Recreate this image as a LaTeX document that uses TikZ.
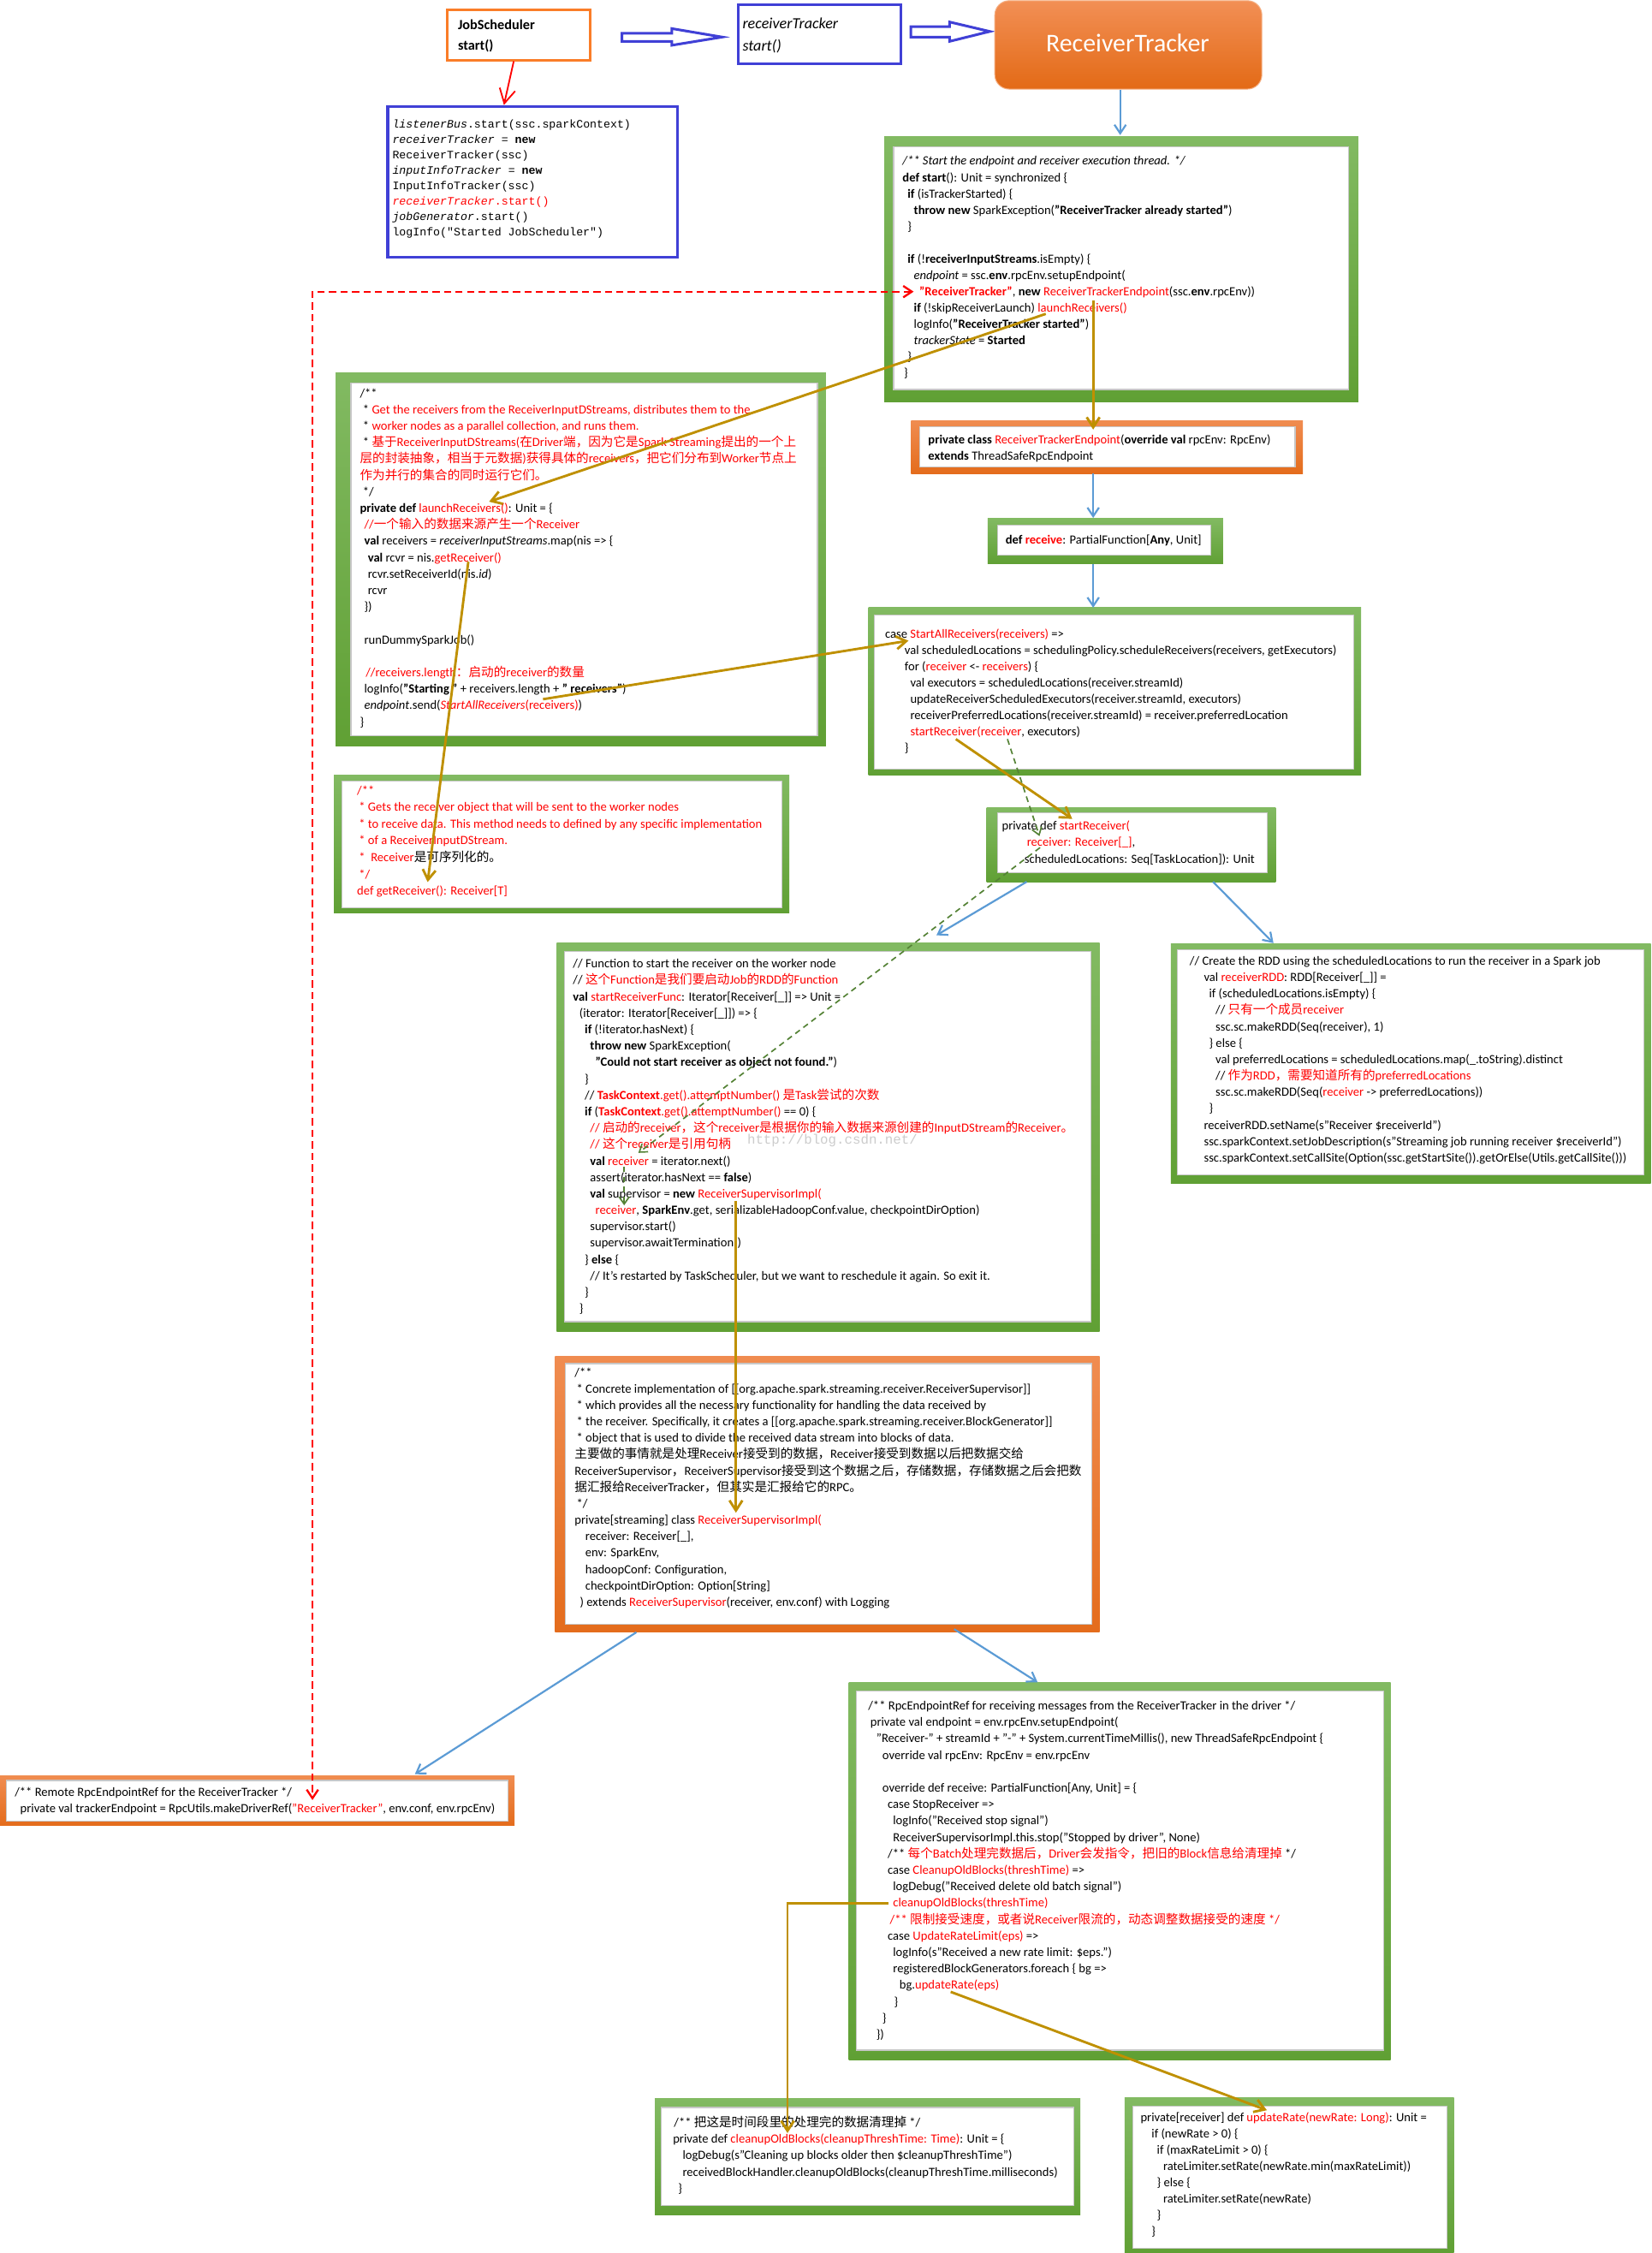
\documentclass[tikz,border=0pt]{standalone}
\usepackage{fontspec}
\setmainfont{Carlito}
\newfontfamily\zhf{Noto Sans CJK SC}
\newfontfamily\monof{Liberation Mono}
\usetikzlibrary{fit,arrows.meta}
\definecolor{gT}{RGB}{130,186,98}
\definecolor{gB}{RGB}{96,160,52}
\definecolor{oT}{RGB}{240,140,80}
\definecolor{oB}{RGB}{228,108,28}
\definecolor{cred}{RGB}{255,0,0}
\definecolor{cblue}{RGB}{91,155,213}
\definecolor{cgold}{RGB}{191,144,0}
\definecolor{cgd}{RGB}{84,130,53}
\definecolor{bbord}{RGB}{64,64,214}
\definecolor{jsor}{RGB}{250,125,40}
\newcommand\zh[1]{{\zhf #1}}
\newcommand\R[1]{\textcolor{cred}{#1}}
\newcommand\cb[2]{\vtop{\baselineskip=#1pt\lineskiplimit=-1000pt\lineskip=0pt\relax #2}}
\newcommand\cl[1]{\hbox{#1}}
\newcommand\ind[1]{\hskip#1pt\relax}
\tikzset{
 gfr/.style={inner sep=0pt, outer sep=0pt, draw=none, top color=gT, bottom color=gB},
 ofr/.style={inner sep=0pt, outer sep=0pt, draw=none, top color=oT, bottom color=oB},
 inb/.style={inner sep=0pt, outer sep=0pt, fill=white, draw=black!22, line width=0.7pt},
 plainbox/.style={inner sep=0pt, outer sep=0pt, line width=2pt, fill=white},
 txt/.style={anchor=base west, inner sep=0pt, font=\fontsize{8.7}{10.4}\selectfont},
 mono/.style={anchor=base west, inner sep=0pt, font=\monof\fontsize{7.9}{10}\selectfont},
 blar/.style={draw=cblue, line width=1.3pt, -{Straight Barb[length=6pt,width=8pt]}},
 gdar/.style={draw=cgold, line width=1.7pt, -{Straight Barb[length=7pt,width=9pt]}},
 redar/.style={draw=cred, line width=1.1pt, -{Straight Barb[length=10pt,width=11pt]}},
 reddash/.style={draw=cred, line width=1.4pt, dash pattern=on 5pt off 3pt, {Straight Barb[length=6pt,width=8pt]}-{Straight Barb[length=6pt,width=8pt]}},
 grdash/.style={draw=cgd, line width=1pt, dash pattern=on 4pt off 3pt, -{Straight Barb[length=5pt,width=7pt]}},
 hollow/.style={draw=bbord, line width=1.8pt, fill=white, line join=miter},
}
\begin{document}
\begin{tikzpicture}[x=1pt,y=-1pt]
\useasboundingbox[fill=white] (0,0) rectangle (1150,1568.3);

% ---------- header ----------
\node[plainbox, draw=jsor, fit={(311.5,7) (411,42)}] (jsB) {};
\node[anchor=base west, inner sep=0pt, font=\fontsize{9.7}{11}\selectfont\bfseries] (jsT1) at (318.6,20.5) {JobScheduler};
\node[anchor=base west, inner sep=0pt, font=\fontsize{9.7}{11}\selectfont\bfseries] (jsT2) at (318.6,35) {start()};

\node[plainbox, draw=bbord, fit={(513.8,3.4) (627,44.3)}] (rtB) {};
\node[anchor=base west, inner sep=0pt, font=\fontsize{10.8}{12}\selectfont\itshape] (rtT1) at (516.7,19.9) {receiverTracker};
\node[anchor=base west, inner sep=0pt, font=\fontsize{10.8}{12}\selectfont\itshape] (rtT2) at (516.7,35.4) {start()};

\draw[hollow] (433,23.2) -- (467.7,23.2) -- (467.7,19.9) -- (502.7,25.8) -- (467.7,31.5) -- (467.7,28.8) -- (433,28.8) -- cycle;
\draw[hollow] (634,18.5) -- (661,18.5) -- (661,15.3) -- (689,21.9) -- (661,28.8) -- (661,25.8) -- (634,25.8) -- cycle;

\node[inner sep=0pt, outer sep=0pt, rounded corners=10pt, top color={rgb,255:red,242;green,143;blue,85}, bottom color={rgb,255:red,227;green,106;blue,22}, draw={rgb,255:red,245;green,175;blue,130}, line width=0.6pt, fit={(692.5,0.5) (878.4,62)}] (RT) {};
\node[inner sep=0pt, text=white, font=\fontsize{17.8}{20}\selectfont] (RTt) at (785,30.2) {ReceiverTracker};

\node[plainbox, draw=bbord, fit={(270,74.1) (471.6,179)}] (lisB) {};
\node[mono] (lisT) at (273,89) {\cb{10.73}{%
\cl{\textit{listenerBus}.start(ssc.sparkContext)}%
\cl{\textit{receiverTracker} = \textbf{new}}%
\cl{ReceiverTracker(ssc)}%
\cl{\textit{inputInfoTracker} = \textbf{new}}%
\cl{InputInfoTracker(ssc)}%
\cl{\R{\textit{receiverTracker}.start()}}%
\cl{\textit{jobGenerator}.start()}%
\cl{logInfo("Started JobScheduler")}}};

% ---------- frames ----------
\node[gfr, fit={(615.6,95) (945.5,279.7)}] (startF) {};
\node[inb, fit={(622.1,102.3) (939,271.1)}] (startI) {};
\node[gfr, fit={(233.7,259.2) (574.9,519.4)}] (launchF) {};
\node[inb, fit={(244.3,266.6) (569,511.9)}] (launchI) {};
\node[gfr, fit={(232.4,539.3) (549.4,635.6)}] (getF) {};
\node[inb, fit={(238.1,543.9) (544.5,631.7)}] (getI) {};
\node[ofr, fit={(634.2,292.7) (907,329.7)}] (rteF) {};
\node[inb, fit={(640.2,297.2) (901.5,325.2)}] (rteI) {};
\node[gfr, fit={(687.5,360.5) (851.4,392.5)}] (recvF) {};
\node[inb, fit={(694.6,365.8) (842.6,386.3)}] (recvI) {};
\node[gfr, fit={(604.5,423) (947.5,539.3)}] (sarF) {};
\node[inb, fit={(608.5,428) (942.3,535.3)}] (sarI) {};
\node[gfr, fit={(686.8,562.1) (888,613.8)}] (srF) {};
\node[inb, fit={(694.6,566) (882,607.5)}] (srI) {};
\node[gfr, fit={(815,657) (1149.2,824)}] (rddF) {};
\node[inb, fit={(819.8,661.1) (1144.1,818)}] (rddI) {};
\node[gfr, fit={(387.6,656.5) (765.5,926.6)}] (srfF) {};
\node[inb, fit={(393.2,662.4) (759.3,920)}] (srfI) {};
\node[ofr, fit={(386.3,944) (765.5,1136.2)}] (supF) {};
\node[inb, fit={(393.7,949.2) (759.8,1130.6)}] (supI) {};
\node[ofr, fit={(0,1236) (358.2,1270.6)}] (remF) {};
\node[inb, fit={(4.3,1239.4) (353.8,1267.9)}] (remI) {};
\node[gfr, fit={(590.9,1171) (968,1433.8)}] (rpcF) {};
\node[inb, fit={(596.3,1176.9) (963.1,1427.1)}] (rpcI) {};
\node[gfr, fit={(455.9,1461) (752.1,1541.8)}] (clF) {};
\node[inb, fit={(460.5,1467) (747.4,1535.1)}] (clI) {};
\node[gfr, fit={(782.9,1460.4) (1012.2,1568.3)}] (urF) {};
\node[inb, fit={(788.4,1466.3) (1007.3,1565)}] (urI) {};

% ---------- texts ----------
\node[txt] (startT) at (628.1,115) {\cb{11.35}{%
\cl{\textit{/** Start the endpoint and receiver execution thread. */}}%
\cl{\textbf{def start}(): Unit = synchronized \{}%
\cl{\ind{3.5}\textbf{if} (isTrackerStarted) \{}%
\cl{\ind{7.9}\textbf{throw new} SparkException(\textbf{"ReceiverTracker already started"})}%
\cl{\ind{3.5}\}}%
\cl{}%
\cl{\ind{3.5}\textbf{if} (!\textbf{receiverInputStreams}.isEmpty) \{}%
\cl{\ind{7.9}\textit{endpoint} = ssc.\textbf{env}.rpcEnv.setupEndpoint(}%
\cl{\ind{11.7}\R{\textbf{"ReceiverTracker"}}, \textbf{new} \R{ReceiverTrackerEndpoint}(ssc.\textbf{env}.rpcEnv))}%
\cl{\ind{7.9}\textbf{if} (!skipReceiverLaunch) \R{launchReceivers()}}%
\cl{\ind{7.9}logInfo(\textbf{"ReceiverTracker started"})}%
\cl{\ind{7.9}\textit{trackerState} = \textbf{Started}}%
\cl{\ind{3.5}\}}%
\cl{\ind{1}\}}}};

\node[txt] (launchT) at (250.4,276.5) {\cb{11.44}{%
\cl{/**}%
\cl{\ind{2}* \R{Get the receivers from the ReceiverInputDStreams, distributes them to the}}%
\cl{\ind{2}* \R{worker nodes as a parallel collection, and runs them.}}%
\cl{\ind{2}* \R{\zh{基于}ReceiverInputDStreams(\zh{在}Driver\zh{端，因为它是}Spark Streaming\zh{提出的一个上}}}%
\cl{\R{\zh{层的封装抽象，相当于元数据})\zh{获得具体的}receivers\zh{，把它们分布到}Worker\zh{节点上}}}%
\cl{\R{\zh{作为并行的集合的同时运行它们。}}}%
\cl{\ind{2}*/}%
\cl{\textbf{private def} \R{launchReceivers()}: Unit = \{}%
\cl{\ind{3}\R{//\zh{一个输入的数据来源产生一个}Receiver}}%
\cl{\ind{3}\textbf{val} receivers = \textit{receiverInputStreams}.map(nis => \{}%
\cl{\ind{5.5}\textbf{val} rcvr = nis.\R{getReceiver()}}%
\cl{\ind{5.5}rcvr.setReceiverId(nis.\textit{id})}%
\cl{\ind{5.5}rcvr}%
\cl{\ind{3}\})}%
\cl{}%
\cl{\ind{3}runDummySparkJob()}%
\cl{}%
\cl{\ind{4}\R{//receivers.length\zh{：启动的}receiver\zh{的数量}}}%
\cl{\ind{3}logInfo(\textbf{"Starting "} + receivers.length + \textbf{" receivers"})}%
\cl{\ind{3}\textit{endpoint}.send(\R{\textit{StartAllReceivers}(receivers)})}%
\cl{\}}}};

\node[txt] (getT) at (248.4,553) {\cb{11.67}{%
\cl{\R{/**}}%
\cl{\ind{1.3}\R{* Gets the receiver object that will be sent to the worker nodes}}%
\cl{\ind{1.3}\R{* to receive data. This method needs to defined by any specific implementation}}%
\cl{\ind{1.3}\R{* of a ReceiverInputDStream.}}%
\cl{\ind{1.3}\R{*~ Receiver}\zh{是可序列化的。}}%
\cl{\ind{1.3}\R{*/}}%
\cl{\R{def getReceiver(): Receiver[T]}}}};

\node[txt] (rteT) at (646,309.1) {\cb{11}{%
\cl{\textbf{private class} \R{ReceiverTrackerEndpoint}(\textbf{override val} rpcEnv: RpcEnv)}%
\cl{\textbf{extends} ThreadSafeRpcEndpoint}}};

\node[txt] (recvT) at (699.8,378.6) {\textbf{def} \R{\textbf{receive}}: PartialFunction[\textbf{Any}, Unit]};

\node[txt] (sarT) at (616,444.2) {\cb{11.3}{%
\cl{case \R{StartAllReceivers(receivers)} =>}%
\cl{\ind{13.6}val scheduledLocations = schedulingPolicy.scheduleReceivers(receivers, getExecutors)}%
\cl{\ind{13.6}for (\R{receiver} <- \R{receivers}) \{}%
\cl{\ind{17.5}val executors = scheduledLocations(receiver.streamId)}%
\cl{\ind{17.5}updateReceiverScheduledExecutors(receiver.streamId, executors)}%
\cl{\ind{17.5}receiverPreferredLocations(receiver.streamId) = receiver.preferredLocation}%
\cl{\ind{17.5}\R{startReceiver(receiver}, executors)}%
\cl{\ind{13.6}\}}}};

\node[txt] (srT) at (697.3,577.8) {\cb{11.45}{%
\cl{private def \R{startReceiver(}}%
\cl{\ind{17.4}\R{receiver: Receiver[\_]},}%
\cl{\ind{15.7}scheduledLocations: Seq[TaskLocation]): Unit}}};

\node[txt] (rddT) at (828,671.8) {\cb{11.42}{%
\cl{// Create the RDD using the scheduledLocations to run the receiver in a Spark job}%
\cl{\ind{9.9}val \R{receiverRDD}: RDD[Receiver[\_]] =}%
\cl{\ind{13.5}if (scheduledLocations.isEmpty) \{}%
\cl{\ind{18}// \R{\zh{只有一个成员}receiver}}%
\cl{\ind{18}ssc.sc.makeRDD(Seq(receiver), 1)}%
\cl{\ind{13.5}\} else \{}%
\cl{\ind{18}val preferredLocations = scheduledLocations.map(\_.toString).distinct}%
\cl{\ind{18}// \R{\zh{作为}RDD\zh{，需要知道所有的}preferredLocations}}%
\cl{\ind{18}ssc.sc.makeRDD(Seq(\R{receiver} -> preferredLocations))}%
\cl{\ind{13.5}\}}%
\cl{\ind{9.9}receiverRDD.setName(s"Receiver \$receiverId")}%
\cl{\ind{9.9}ssc.sparkContext.setJobDescription(s"Streaming job running receiver \$receiverId")}%
\cl{\ind{9.9}ssc.sparkContext.setCallSite(Option(ssc.getStartSite()).getOrElse(Utils.getCallSite()))}}};

\node[txt] (srfT) at (398.7,673.8) {\cb{11.43}{%
\cl{// Function to start the receiver on the worker node}%
\cl{// \R{\zh{这个}Function\zh{是我们要启动}Job\zh{的}RDD\zh{的}Function}}%
\cl{\textbf{val} \R{startReceiverFunc}: Iterator[Receiver[\_]] => Unit =}%
\cl{\ind{4.4}(iterator: Iterator[Receiver[\_]]) => \{}%
\cl{\ind{8.2}\textbf{if} (!iterator.hasNext) \{}%
\cl{\ind{11.9}\textbf{throw new} SparkException(}%
\cl{\ind{15.6}\textbf{"Could not start receiver as object not found."})}%
\cl{\ind{8.2}\}}%
\cl{\ind{8.2}// \R{\textbf{TaskContext}.get().attemptNumber() \zh{是}Task\zh{尝试的次数}}}%
\cl{\ind{8.2}\textbf{if} (\R{\textbf{TaskContext}.get().attemptNumber()} == 0) \{}%
\cl{\ind{11.9}\R{// \zh{启动的}receiver\zh{，这个}receiver\zh{是根据你的输入数据来源创建的}InputDStream\zh{的}Receiver\zh{。}}}%
\cl{\ind{11.9}\R{// \zh{这个}receiver\zh{是引用句柄}}}%
\cl{\ind{11.9}\textbf{val} \R{receiver} = iterator.next()}%
\cl{\ind{11.9}assert(iterator.hasNext == \textbf{false})}%
\cl{\ind{11.9}\textbf{val} supervisor = \textbf{new} \R{ReceiverSupervisorImpl(}}%
\cl{\ind{15.6}\R{receiver}, \textbf{SparkEnv}.get, serializableHadoopConf.value, checkpointDirOption)}%
\cl{\ind{11.9}supervisor.start()}%
\cl{\ind{11.9}supervisor.awaitTermination()}%
\cl{\ind{8.2}\} \textbf{else} \{}%
\cl{\ind{11.9}// It's restarted by TaskScheduler, but we want to reschedule it again. So exit it.}%
\cl{\ind{8.2}\}}%
\cl{\ind{4.4}\}}}};

\node[anchor=base west, inner sep=0pt, text=black!20, font=\monof\fontsize{9.4}{11}\selectfont] (wm) at (520,796.5) {http://blog.csdn.net/};

\node[txt] (supT) at (399.9,958.2) {\cb{11.42}{%
\cl{/**}%
\cl{\ind{1.3}* Concrete implementation of [[org.apache.spark.streaming.receiver.ReceiverSupervisor]]}%
\cl{\ind{1.3}* which provides all the necessary functionality for handling the data received by}%
\cl{\ind{1.3}* the receiver. Specifically, it creates a [[org.apache.spark.streaming.receiver.BlockGenerator]]}%
\cl{\ind{1.3}* object that is used to divide the received data stream into blocks of data.}%
\cl{\zh{主要做的事情就是处理}Receiver\zh{接受到的数据，}Receiver\zh{接受到数据以后把数据交给}}%
\cl{ReceiverSupervisor\zh{，}ReceiverSupervisor\zh{接受到这个数据之后，存储数据，存储数据之后会把数}}%
\cl{\zh{据汇报给}ReceiverTracker\zh{，但其实是汇报给它的}RPC\zh{。}}%
\cl{\ind{1.3}*/}%
\cl{private[streaming] class \R{ReceiverSupervisorImpl(}}%
\cl{\ind{7.4}receiver: Receiver[\_],}%
\cl{\ind{7.4}env: SparkEnv,}%
\cl{\ind{7.4}hadoopConf: Configuration,}%
\cl{\ind{7.4}checkpointDirOption: Option[String]}%
\cl{\ind{3.7}) extends \R{ReceiverSupervisor}(receiver, env.conf) with Logging}}};

\node[txt] (remT) at (10.1,1250.6) {\cb{11.2}{%
\cl{/** Remote RpcEndpointRef for the ReceiverTracker */}%
\cl{\ind{3.8}private val trackerEndpoint = RpcUtils.makeDriverRef(\R{"ReceiverTracker"}, env.conf, env.rpcEnv)}}};

\node[txt] (rpcT) at (604.2,1190.2) {\cb{11.44}{%
\cl{/** RpcEndpointRef for receiving messages from the ReceiverTracker in the driver */}%
\cl{\ind{1.5}private val endpoint = env.rpcEnv.setupEndpoint(}%
\cl{\ind{5.7}"Receiver-" + streamId + "-" + System.currentTimeMillis(), new ThreadSafeRpcEndpoint \{}%
\cl{\ind{9.9}override val rpcEnv: RpcEnv = env.rpcEnv}%
\cl{}%
\cl{\ind{9.9}override def receive: PartialFunction[Any, Unit] = \{}%
\cl{\ind{13.6}case StopReceiver =>}%
\cl{\ind{17.3}logInfo("Received stop signal")}%
\cl{\ind{17.3}ReceiverSupervisorImpl.this.stop("Stopped by driver", None)}%
\cl{\ind{13.6}/** \R{\zh{每个}Batch\zh{处理完数据后，}Driver\zh{会发指令，把旧的}Block\zh{信息给清理掉}} */}%
\cl{\ind{13.6}case \R{CleanupOldBlocks(threshTime)} =>}%
\cl{\ind{17.3}logDebug("Received delete old batch signal")}%
\cl{\ind{17.3}\R{cleanupOldBlocks(threshTime)}}%
\cl{\ind{15.1}\R{/** \zh{限制接受速度，或者说}Receiver\zh{限流的，动态调整数据接受的速度} */}}%
\cl{\ind{13.6}case \R{UpdateRateLimit(eps)} =>}%
\cl{\ind{17.3}logInfo(s"Received a new rate limit: \$eps.")}%
\cl{\ind{17.3}registeredBlockGenerators.foreach \{ bg =>}%
\cl{\ind{21.8}bg.\R{updateRate(eps)}}%
\cl{\ind{18.1}\}}%
\cl{\ind{9.9}\}}%
\cl{\ind{5.7}\})}}};

\node[txt] (clT) at (469,1480.3) {\cb{11.5}{%
\cl{/** \zh{把这是时间段里的处理完的数据清理掉} */}%
\cl{\ind{-0.7}private def \R{cleanupOldBlocks(cleanupThreshTime: Time)}: Unit = \{}%
\cl{\ind{6}logDebug(s"Cleaning up blocks older then \$cleanupThreshTime")}%
\cl{\ind{6}receivedBlockHandler.cleanupOldBlocks(cleanupThreshTime.milliseconds)}%
\cl{\ind{3}\}}}};

\node[txt] (urT) at (793.8,1476.7) {\cb{11.36}{%
\cl{private[receiver] def \R{updateRate(newRate: Long)}: Unit =}%
\cl{\ind{7.7}if (newRate > 0) \{}%
\cl{\ind{11.4}if (maxRateLimit > 0) \{}%
\cl{\ind{15.8}rateLimiter.setRate(newRate.min(maxRateLimit))}%
\cl{\ind{11.4}\} else \{}%
\cl{\ind{15.8}rateLimiter.setRate(newRate)}%
\cl{\ind{11.4}\}}%
\cl{\ind{7.7}\}}}};

% ---------- connector end points ----------
\coordinate (c1a) at (357.6,42.7);  \coordinate (c1b) at (350.8,73.1);
\coordinate (c2a) at (779.8,62.6);  \coordinate (c2b) at (779.8,94);
\coordinate (c3a) at (728,218.5);   \coordinate (c3b) at (340.5,349.2);
\coordinate (c4a) at (761,209);     \coordinate (c4b) at (761,299);
\coordinate (c5a) at (761,329.7);   \coordinate (c5b) at (761,360.5);
\coordinate (c6a) at (761,392.5);   \coordinate (c6b) at (761,423);
\coordinate (c7a) at (378,486.7);   \coordinate (c7b) at (632.4,446);
\coordinate (c8a) at (326,391);     \coordinate (c8b) at (297.7,614);
\coordinate (c9a) at (665.4,514.5); \coordinate (c9b) at (746.4,570);
\coordinate (d1a) at (701.3,514.5); \coordinate (d1b) at (723.6,582);
\coordinate (d2a) at (724,590);     \coordinate (d2b) at (444.4,802.5);
\coordinate (d3a) at (434.5,812);   \coordinate (d3b) at (434.5,839);
\coordinate (e1a) at (714.7,613.8); \coordinate (e1b) at (651.9,651);
\coordinate (e2a) at (844.4,613.8); \coordinate (e2b) at (886.5,656.5);
\coordinate (f1a) at (512.3,836);   \coordinate (f1b) at (512.3,1053);
\coordinate (g1a) at (443,1136.2);  \coordinate (g1b) at (288.8,1235);
\coordinate (g2a) at (664.2,1134);  \coordinate (g2b) at (722.3,1171);
\coordinate (r1a) at (636,203);     \coordinate (r1m) at (217.5,203);  \coordinate (r1b) at (217.5,1253);
\coordinate (h1a) at (618.6,1325);  \coordinate (h1m) at (548.2,1325); \coordinate (h1b) at (548.2,1484.8);
\coordinate (h2a) at (661.8,1386.5);\coordinate (h2b) at (881.9,1468.9);

% ---------- connectors ----------
\draw[redar] (c1a) -- (c1b);
\draw[blar] (c2a) -- (c2b);
\draw[gdar] (c3a) -- (c3b);
\draw[gdar] (c4a) -- (c4b);
\draw[blar] (c5a) -- (c5b);
\draw[blar] (c6a) -- (c6b);
\draw[gdar] (c7a) -- (c7b);
\draw[gdar] (c8a) -- (c8b);
\draw[gdar] (c9a) -- (c9b);
\draw[grdash] (d1a) -- (d1b);
\draw[grdash] (d2a) -- (d2b);
\draw[grdash] (d3a) -- (d3b);
\draw[blar] (e1a) -- (e1b);
\draw[blar] (e2a) -- (e2b);
\draw[gdar] (f1a) -- (f1b);
\draw[blar] (g1a) -- (g1b);
\draw[blar] (g2a) -- (g2b);
\draw[reddash] (r1a) -- (r1m) -- (r1b);
\draw[gdar] (h1a) -- (h1m) -- (h1b);
\draw[gdar] (h2a) -- (h2b);
\end{tikzpicture}
\end{document}
